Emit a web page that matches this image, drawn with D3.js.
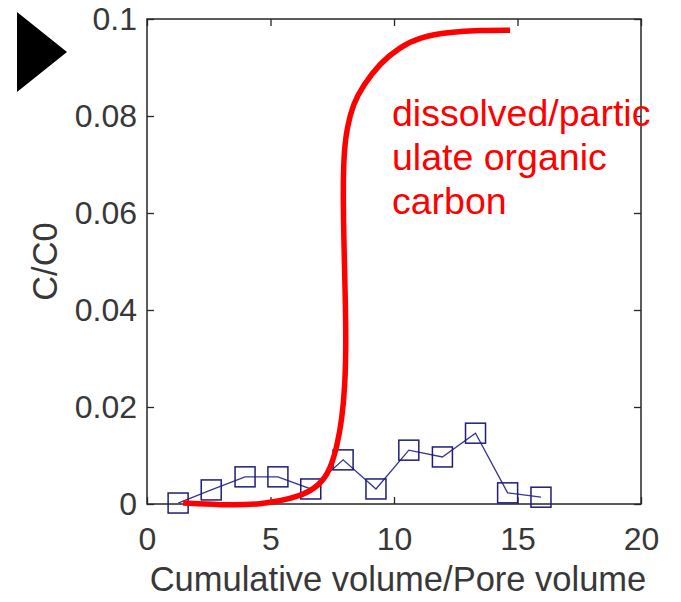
<!DOCTYPE html>
<html>
<head>
<meta charset="utf-8">
<script src="https://cdn.jsdelivr.net/npm/d3@7"></script>
<style>
  body { margin: 0; background: #fff; }
  svg { display: block; font-family: "Liberation Sans", Arial, sans-serif; }
</style>
</head>
<body>
<svg id="chart" width="681" height="602"></svg>
<script>
// tick values
const xTicks = [0, 5, 10, 15, 20];
const yTicks = [0, 0.02, 0.04, 0.06, 0.08, 0.1];

// measured series (squares)
const poreVolumes = [1.26, 2.6, 3.97, 5.3, 6.63, 7.94, 9.27, 10.6, 11.96, 13.3, 14.6, 15.95];
const concRatio = [0.0002, 0.0029, 0.0056, 0.0056, 0.0031, 0.0091, 0.0031, 0.0111, 0.0097, 0.0146, 0.0023, 0.0014];

// hand drawn red breakthrough curve
const curveX = [1.46, 2.96, 4.57, 6.19, 7.0, 7.41, 7.69, 7.89, 8.02, 8.06, 8.02, 7.98, 7.94, 7.96, 8.1, 8.36, 8.74, 9.43, 10.24, 11.05, 12.27, 13.48, 14.7];
const curveY = [0.0002, -0.0002, -0.0002, 0.0014, 0.0039, 0.007, 0.0118, 0.0173, 0.0245, 0.0338, 0.0441, 0.0524, 0.0627, 0.072, 0.0778, 0.0826, 0.0862, 0.0909, 0.0942, 0.0963, 0.0973, 0.0977, 0.0977];

const noteLines = ['dissolved/partic', 'ulate organic', 'carbon'];

const svg = d3.select('#chart');
const plotL = 147, plotR = 641, plotT = 19, plotB = 504;

const x = d3.scaleLinear().domain([0, 20]).range([plotL, plotR]);
const y = d3.scaleLinear().domain([0, 0.1]).range([plotB, plotT]);

const axisColor = '#262626';

// black triangle marker at the top left
svg.append('path')
  .attr('d', 'M17,12 L67,52 L17,92 Z')
  .attr('fill', '#000');

// axes with inward ticks (matlab style)
const gx = svg.append('g')
  .attr('transform', `translate(0,${plotB})`)
  .call(d3.axisBottom(x).tickValues(xTicks).tickSize(-7).tickPadding(23).tickFormat(d3.format('d')));
const gxTop = svg.append('g')
  .attr('transform', `translate(0,${plotT})`)
  .call(d3.axisTop(x).tickValues(xTicks).tickSize(-7).tickFormat(''));
const gy = svg.append('g')
  .attr('transform', `translate(${plotL},0)`)
  .call(d3.axisLeft(y).tickValues(yTicks).tickSize(-7).tickPadding(10).tickFormat(d => String(+d.toFixed(2))));
const gyRight = svg.append('g')
  .attr('transform', `translate(${plotR},0)`)
  .call(d3.axisRight(y).tickValues(yTicks).tickSize(-7).tickFormat(''));

[gx, gxTop, gy, gyRight].forEach(g => {
  g.select('.domain').remove();
  g.selectAll('line').attr('stroke', axisColor).attr('stroke-width', 1.3);
  g.selectAll('text')
    .attr('fill', '#383838')
    .style('font-size', '32px')
    .style('font-family', '"Liberation Sans", Arial, sans-serif');
});

svg.append('rect')
  .attr('x', plotL).attr('y', plotT)
  .attr('width', plotR - plotL).attr('height', plotB - plotT)
  .attr('fill', 'none')
  .attr('stroke', axisColor)
  .attr('stroke-width', 1.5);

// axis labels
svg.append('text')
  .attr('x', (plotL + plotR) / 2 + 4)
  .attr('y', 591)
  .attr('text-anchor', 'middle')
  .attr('fill', '#383838')
  .style('font-size', '34.5px')
  .text('Cumulative volume/Pore volume');

svg.append('text')
  .attr('transform', `translate(57,${(plotT + plotB) / 2}) rotate(-90)`)
  .attr('text-anchor', 'middle')
  .attr('fill', '#383838')
  .style('font-size', '34.5px')
  .text('C/C0');

// data series
const pts = poreVolumes.map((v, i) => [v, concRatio[i]]);
const line = d3.line().x(d => x(d[0])).y(d => y(d[1]));

svg.append('path')
  .attr('d', line(pts))
  .attr('fill', 'none')
  .attr('stroke', '#34349a')
  .attr('stroke-width', 1.3);

const sq = 20;
svg.selectAll('rect.marker')
  .data(pts)
  .enter()
  .append('rect')
  .attr('class', 'marker')
  .attr('x', d => x(d[0]) - sq / 2)
  .attr('y', d => y(d[1]) - sq / 2)
  .attr('width', sq)
  .attr('height', sq)
  .attr('fill', 'none')
  .attr('stroke', '#1e1e78')
  .attr('stroke-width', 1.5);

// red annotation curve
const curvePts = curveX.map((v, i) => [v, curveY[i]]);
svg.append('path')
  .attr('d', d3.line().x(d => x(d[0])).y(d => y(d[1])).curve(d3.curveBasis)(curvePts))
  .attr('fill', 'none')
  .attr('stroke', '#ff0000')
  .attr('stroke-width', 5.5)
  .attr('stroke-linecap', 'butt');

svg.append('g')
  .selectAll('text')
  .data(noteLines)
  .enter()
  .append('text')
  .attr('x', 392)
  .attr('y', (d, i) => 126 + i * 44)
  .attr('fill', '#ff0000')
  .style('font-size', '37.5px')
  .text(d => d);
</script>
</body>
</html>
